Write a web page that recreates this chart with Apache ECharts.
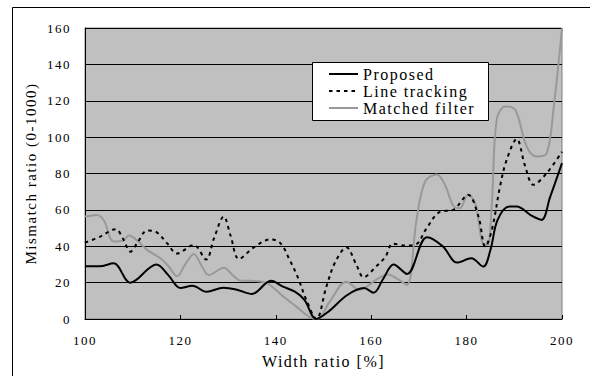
<!DOCTYPE html>
<html>
<head>
<meta charset="utf-8">
<script src="https://cdn.jsdelivr.net/npm/echarts@6/dist/echarts.min.js"></script>
<style>
  html, body { margin: 0; padding: 0; background: #fff; }
  #chart { width: 590px; height: 376px; }
  #chart svg text { letter-spacing: 1.5px; font-family: 'Liberation Serif', serif !important; }
</style>
</head>
<body>
<div id="chart"></div>
<script>
// Series names
const seriesNames = ['Proposed', 'Line tracking', 'Matched filter'];

// Width ratio [%] sample positions and values per series
const proposedX = [100,103,106,109.5,115,117.5,120,122.5,125.5,129,132,135,139,141.5,144,146,148.5,151,155,158.5,160.5,162.5,164.7,167.5,171.7,175,178,181,183.5,185,186.5,189,190.5,193.5,195.7,197.5,200];
const proposedY = [29,29,30.6,20,30,24,17,18.3,15,17.2,16,13.8,21,17.8,15,10.5,0,4,13.2,17,14.5,22,30,24.8,45,40,31,33.4,28.8,38,54.5,61.8,61.8,57,54.5,67,85.7];

const trackingX = [100,103.2,106.4,108,109.5,111,113,114.8,117.2,119.3,122.8,125.4,127,129.1,130.5,132.3,135.4,138.9,141,142.9,144.6,146.4,148.5,150.6,152.5,154.8,156.9,158.4,161,163,164.5,167.2,169.5,171.4,174.2,177.3,180.3,182.5,183.9,185.3,187,188.4,190.5,192.3,194,196.8,200];
const trackingY = [42,45.3,49.4,44,37,42,48.6,48,41.7,36,40.7,32.7,44,56.3,46,33,39.4,43.8,41.6,32.5,23,10.5,0,17.8,31.5,39.4,29.7,23,28.8,34.3,41.4,40.4,41.2,49,58.6,60.2,68.3,56.3,39.8,49,72.8,87.5,98.9,83.8,73.8,80.2,92];

const matchedX = [100,102.5,104,106,108,109.2,111,113,115.8,117.5,119.3,121,122.8,124.5,125.9,129.1,131,132.6,135,138.2,141.6,144.3,147.1,148.7,151.3,154.8,157.5,161,163.5,165.5,167.5,169.5,171.3,173.8,175.5,177.2,178.6,180.3,181.8,183.5,184.4,185.3,186.3,188.1,190.2,192.6,194.7,196.8,198.2,200];
const matchedY = [56.3,57.2,54,42.6,43,45.9,43,38,33.4,29,23.5,30,35.8,29,24.2,28.2,24,21.1,21,19.6,12.3,6.8,1,0,9.5,20.5,16,21.5,24.5,22,18.7,54.5,75.6,79.5,73.5,62.3,60.9,68.3,63.7,41,40.7,63.7,109.5,116.9,115,94.8,89.3,91.2,115,160];

// Axis ticks
const xTicks = [100, 120, 140, 160, 180, 200];
const yTicks = [0, 20, 40, 60, 80, 100, 120, 140, 160];

function pairs(xs, ys) { return xs.map((x, i) => [x, ys[i]]); }

const serif = "'Liberation Serif', serif";
const chart = echarts.init(document.getElementById('chart'), null, { renderer: 'svg', width: 590, height: 376 });

chart.setOption({
  backgroundColor: '#ffffff',
  animation: false,
  textStyle: { fontFamily: serif },
  grid: {
    left: 85, top: 28, right: 28, bottom: 57,
    show: true, backgroundColor: '#c0c0c0', borderColor: '#808080', borderWidth: 1
  },
  xAxis: {
    type: 'value',
    min: xTicks[0], max: xTicks[xTicks.length - 1], interval: 20,
    name: 'Width ratio [%]', nameLocation: 'middle', nameGap: 34,
    nameTextStyle: { fontFamily: serif, fontSize: 16, color: '#000' },
    axisLine: { show: true, lineStyle: { color: '#000', width: 1 } },
    axisTick: { show: true, inside: true, length: 4, lineStyle: { color: '#000' } },
    axisLabel: { margin: 15, fontFamily: serif, fontSize: 13, color: '#000' },
    splitLine: { show: false }
  },
  yAxis: {
    type: 'value',
    min: yTicks[0], max: yTicks[yTicks.length - 1], interval: 20,
    name: 'Mismatch ratio (0-1000)', nameLocation: 'middle', nameGap: 47, nameRotate: 90,
    nameTextStyle: { fontFamily: serif, fontSize: 15, color: '#000' },
    axisLine: { show: true, lineStyle: { color: '#000', width: 1 } },
    axisTick: { show: false },
    axisLabel: { margin: 14, fontFamily: serif, fontSize: 13, color: '#000' },
    splitLine: { show: true, lineStyle: { color: '#000', width: 1 } }
  },
  legend: {
    orient: 'vertical', left: 328, top: 65.5, padding: 0,
    itemWidth: 29, itemHeight: 14, itemGap: 0, z: 5,
    itemStyle: { opacity: 0 },
    textStyle: { fontFamily: serif, fontSize: 16, color: '#000', lineHeight: 17 },
    data: seriesNames
  },
  graphic: [
    { type: 'rect', z: 4, shape: { x: 312.5, y: 62.5, width: 176, height: 58 },
      style: { fill: '#ffffff', stroke: '#000', lineWidth: 1 } },
    { type: 'polyline', z: 4, shape: { points: [[12.5, 380], [12.5, 7.5], [600, 7.5]] },
      style: { fill: null, stroke: '#000', lineWidth: 1 } }
  ],
  series: [
    { name: seriesNames[0], type: 'line', data: pairs(proposedX, proposedY), smooth: 0.35,
      symbol: 'none', lineStyle: { color: '#000', width: 2 }, itemStyle: { color: '#000' }, z: 3 },
    { name: seriesNames[1], type: 'line', data: pairs(trackingX, trackingY), smooth: 0.35,
      symbol: 'none', lineStyle: { color: '#000', width: 2, type: [3.5, 4] }, itemStyle: { color: '#000' }, z: 3 },
    { name: seriesNames[2], type: 'line', data: pairs(matchedX, matchedY), smooth: 0.35,
      symbol: 'none', lineStyle: { color: '#999999', width: 2 }, itemStyle: { color: '#999999' }, z: 2 }
  ]
});
</script>
</body>
</html>
